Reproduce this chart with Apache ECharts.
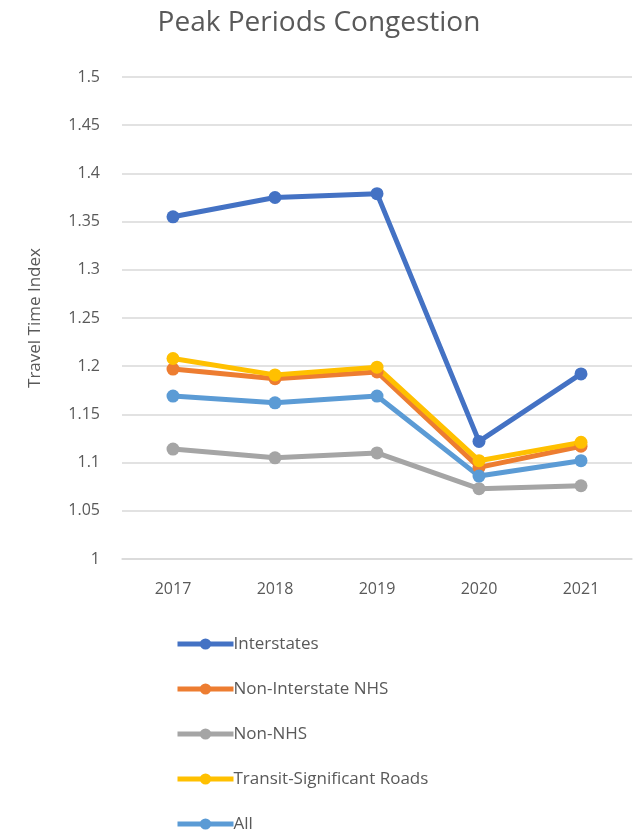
<!DOCTYPE html>
<html><head><meta charset="utf-8">
<script src="https://cdn.jsdelivr.net/npm/echarts@6/dist/echarts.min.js"></script>
<style>html,body{margin:0;padding:0;background:#fff}#c{width:638px;height:834px}</style>
</head><body><div id="c"></div>
<script>
const years = ['2017','2018','2019','2020','2021'];
const interstates = [1.355, 1.375, 1.379, 1.122, 1.192];
const nonInterstateNHS = [1.197, 1.187, 1.194, 1.095, 1.117];
const nonNHS = [1.114, 1.105, 1.110, 1.073, 1.076];
const transitSignificant = [1.208, 1.191, 1.199, 1.102, 1.121];
const all = [1.169, 1.162, 1.169, 1.086, 1.102];
const seriesNames = ['Interstates','Non-Interstate NHS','Non-NHS','Transit-Significant Roads','All'];
const seriesData = [interstates, nonInterstateNHS, nonNHS, transitSignificant, all];
const colors = ['#4472c4','#ed7d31','#a5a5a5','#ffc000','#5b9bd5'];
const font = '"Open Sans", "Liberation Sans", sans-serif';
const chart = echarts.init(document.getElementById('c'));
chart.setOption({
  animation:false,
  color: colors,
  title:{text:'Peak Periods Congestion', left:'center', top:4,
    textStyle:{fontFamily:font, fontSize:28, fontWeight:'normal', color:'#595959'}},
  grid:{left:122, right:6, top:77, bottom:275},
  xAxis:{type:'category', data:years, boundaryGap:true,
    axisLine:{lineStyle:{color:'#d9d9d9', width:1.5}}, axisTick:{show:false},
    axisLabel:{fontFamily:font, fontSize:16, color:'#595959', margin:22}},
  yAxis:{type:'value', min:1, max:1.5, interval:0.05,
    name:'Travel Time Index', nameLocation:'middle', nameGap:78, nameRotate:90,
    nameTextStyle:{fontFamily:font, fontSize:17, color:'#595959'},
    axisLine:{show:false}, axisTick:{show:false},
    axisLabel:{fontFamily:font, fontSize:16, color:'#595959', margin:22,
      formatter: v => String(Math.round(v*100)/100)},
    splitLine:{lineStyle:{color:'#d9d9d9', width:1.5}}},
  legend:{orient:'vertical', left:170, top:629, height:220, itemWidth:56, itemHeight:14, itemGap:25,
    lineStyle:{width:5},
    textStyle:{fontFamily:font, fontSize:17, color:'#595959', lineHeight:20, padding:[0,0,0,-5]},
    data:seriesNames},
  series: seriesNames.map((n,i)=>({name:n, type:'line', data:seriesData[i],
    symbol:'circle', symbolSize:13, lineStyle:{width:5, color:colors[i]},
    itemStyle:{color:colors[i]}}))
});
</script></body></html>
